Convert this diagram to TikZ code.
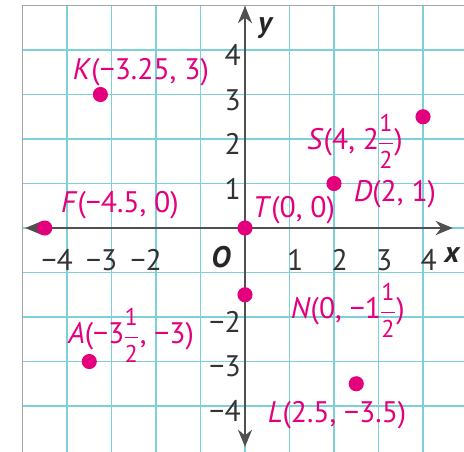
\documentclass[tikz,border=0pt]{standalone}
\usepackage{fontspec}
\setmainfont{PT Sans}
\usetikzlibrary{arrows.meta}
\definecolor{dotpink}{RGB}{228,0,124}
\definecolor{gridcyan}{RGB}{125,208,218}
\definecolor{axisgray}{RGB}{80,80,80}
\definecolor{framegray}{RGB}{165,165,165}
% mixed number with a stacked one half
\newcommand{\mixhalf}[1]{#1\kern-1pt$\displaystyle\frac{\mbox{\fontsize{15.5}{15.5}\selectfont 1}}{\mbox{\fontsize{15.5}{15.5}\selectfont 2}}$}
\tikzset{
  gridline/.style={gridcyan, line width=0.8pt},
  axisline/.style={axisgray, line width=1.6pt, {Stealth[length=11pt,width=9pt]}-{Stealth[length=11pt,width=9pt]}},
  ptdot/.style={circle, fill=dotpink, inner sep=0pt, minimum size=0.34cm},
  ptlabel/.style={text=dotpink, font=\fontsize{19}{21}\selectfont, inner sep=0pt},
  ticklabel/.style={text=black!80, font=\fontsize{19}{21}\selectfont, inner sep=0pt},
  axislabel/.style={text=black!85, font=\fontsize{19}{21}\selectfont\bfseries\itshape, inner sep=0pt},
}
\begin{document}
\begin{tikzpicture}
    \useasboundingbox (-5.506,-5.011) rectangle (4.921,5.124);

    % grid
    \foreach \k in {-4,...,4} {
        \draw[gridline] (\k,-5.3) -- (\k,5);
        \draw[gridline] (-5,\k) -- (5.3,\k);
    }
    \draw[framegray, line width=0.8pt] (-5,-5.3) -- (-5,5) -- (5.3,5);

    % axes
    \draw[axisline] (-4.94,0) -- (4.67,0);
    \draw[axisline] (0,-4.92) -- (0,4.99);
    \node[axislabel] (xlab) at (4.65,-0.6) {x};
    \node[axislabel] (ylab) at (0.45,4.49) {y};
    \node[axislabel] (orig) at (-0.54,-0.65) {O};

    % numbers on the axes
    \foreach \n in {1,...,4} {
        \node[ticklabel] (xt\n) at (\n+0.13,-0.72) {\n};
        \node[ticklabel, anchor=east] (yt\n) at (-0.09,\n-0.12) {\n};
    }
    \foreach \n in {2,3,4} {
        \node[ticklabel, anchor=east] (xtm\n) at (-\n+0.14,-0.72) {−\n};
        \node[ticklabel, anchor=east] (ytm\n) at (-0.09,-\n-0.1) {−\n};
    }

    % points
    \node[ptdot] (T) at (0,0) {};
    \node[ptdot] (D) at (2,1) {};
    \node[ptdot] (S) at (4,2.5) {};
    \node[ptdot] (K) at (-3.25,3) {};
    \node[ptdot] (F) at (-4.5,0) {};
    \node[ptdot] (A) at (-3.5,-3) {};
    \node[ptdot] (N) at (0,-1.5) {};
    \node[ptdot] (L) at (2.5,-3.5) {};

    % point labels
    \node[ptlabel] (Tlab) at (1.10,0.40) {\textit{T}(0, 0)};
    \node[ptlabel] (Dlab) at (3.37,0.76) {\textit{D}(2, 1)};
    \node[ptlabel, anchor=base] (Slab) at (2.47,1.76) {\textit{S}(4, \mixhalf{2})};
    \node[ptlabel] (Klab) at (-2.34,3.51) {\textit{K}(−3.25, 3)};
    \node[ptlabel] (Flab) at (-2.81,0.52) {\textit{F}(−4.5, 0)};
    \node[ptlabel, anchor=base] (Alab) at (-2.56,-2.6) {\textit{A}(−\mixhalf{3}, −3)};
    \node[ptlabel, anchor=base] (Nlab) at (2.31,-2.04) {\textit{N}(0, −\mixhalf{1})};
    \node[ptlabel] (Llab) at (2.07,-4.20) {\textit{L}(2.5, −3.5)};
\end{tikzpicture}
\end{document}
